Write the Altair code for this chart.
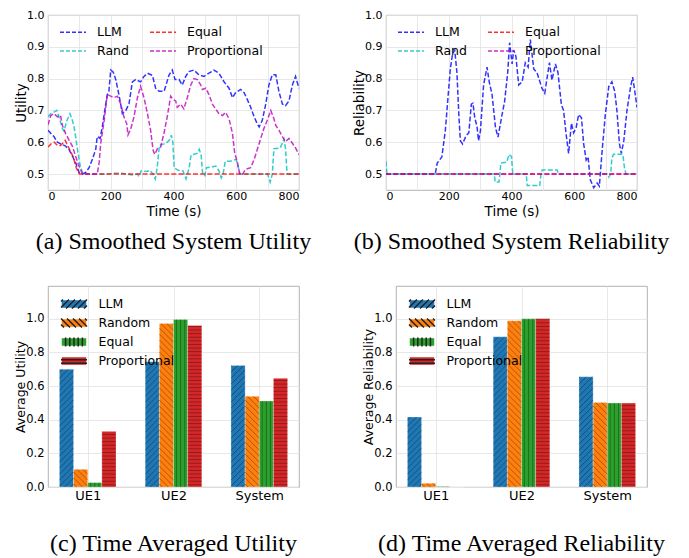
import altair as alt
import pandas as pd
import numpy as np

# ---------------- line-chart data ----------------
u_llm_t = [0, 9, 19, 30, 40, 55, 67, 78, 88, 99, 110, 120, 131, 141, 152, 157, 166, 173, 184, 189, 194, 200, 208, 216, 226, 237, 248, 258, 269, 279, 295, 306, 317, 333, 343, 354, 370, 386, 396, 405, 418, 428, 439, 449, 465, 481, 497, 513, 529, 545, 561, 577, 588, 598, 614, 625, 635, 646, 657, 667, 673, 683, 694, 704, 715, 726, 736, 747, 757, 768, 779, 789, 798, 800]
u_llm_v = [0.638, 0.628, 0.618, 0.600, 0.595, 0.589, 0.577, 0.556, 0.536, 0.505, 0.500, 0.505, 0.520, 0.546, 0.577, 0.618, 0.612, 0.648, 0.720, 0.750, 0.760, 0.827, 0.820, 0.797, 0.750, 0.690, 0.700, 0.720, 0.790, 0.797, 0.790, 0.807, 0.817, 0.810, 0.770, 0.760, 0.760, 0.812, 0.827, 0.797, 0.797, 0.780, 0.807, 0.822, 0.827, 0.812, 0.807, 0.817, 0.827, 0.817, 0.790, 0.770, 0.740, 0.756, 0.766, 0.756, 0.735, 0.710, 0.680, 0.658, 0.648, 0.669, 0.720, 0.780, 0.812, 0.812, 0.760, 0.720, 0.715, 0.730, 0.780, 0.807, 0.776, 0.770]

u_rand_t = [0, 9, 19, 28, 35, 46, 51, 60, 70, 78, 83, 88, 94, 99, 104, 110, 115, 195, 205, 235, 250, 270, 285, 290, 297, 315, 325, 335, 342, 348, 355, 370, 380, 390, 393, 398, 402, 415, 430, 440, 450, 456, 475, 482, 488, 493, 500, 505, 520, 535, 545, 552, 558, 565, 580, 595, 600, 607, 612, 700, 708, 715, 720, 740, 748, 752, 757, 762, 800]
u_rand_v = [0.680, 0.690, 0.695, 0.700, 0.680, 0.643, 0.635, 0.668, 0.690, 0.668, 0.648, 0.618, 0.577, 0.546, 0.520, 0.505, 0.500, 0.500, 0.503, 0.503, 0.500, 0.497, 0.500, 0.492, 0.510, 0.508, 0.512, 0.500, 0.485, 0.520, 0.590, 0.595, 0.600, 0.610, 0.622, 0.600, 0.520, 0.512, 0.510, 0.485, 0.520, 0.560, 0.565, 0.578, 0.560, 0.500, 0.495, 0.520, 0.522, 0.525, 0.510, 0.488, 0.500, 0.540, 0.540, 0.545, 0.545, 0.520, 0.500, 0.500, 0.475, 0.500, 0.580, 0.582, 0.600, 0.610, 0.580, 0.500, 0.500]

u_equal_t = [0, 10, 20, 30, 40, 50, 55, 60, 70, 80, 90, 100, 800]
u_equal_v = [0.585, 0.595, 0.600, 0.590, 0.590, 0.600, 0.606, 0.595, 0.575, 0.555, 0.520, 0.500, 0.500]

u_prop_t = [0, 9, 19, 30, 40, 46, 56, 67, 78, 88, 99, 110, 157, 163, 168, 179, 189, 200, 210, 221, 232, 242, 251, 255, 264, 274, 285, 295, 306, 317, 327, 335, 340, 349, 359, 370, 380, 391, 398, 407, 412, 423, 433, 444, 455, 465, 476, 487, 492, 503, 513, 524, 534, 545, 556, 566, 577, 588, 595, 604, 611, 620, 630, 646, 657, 667, 678, 688, 699, 710, 720, 726, 736, 747, 757, 768, 779, 789, 800]
u_prop_v = [0.655, 0.684, 0.690, 0.680, 0.684, 0.653, 0.628, 0.607, 0.587, 0.556, 0.525, 0.500, 0.500, 0.536, 0.597, 0.668, 0.750, 0.745, 0.740, 0.745, 0.720, 0.680, 0.658, 0.623, 0.643, 0.680, 0.740, 0.776, 0.740, 0.690, 0.638, 0.575, 0.562, 0.580, 0.585, 0.630, 0.680, 0.745, 0.735, 0.730, 0.710, 0.720, 0.705, 0.740, 0.780, 0.800, 0.797, 0.780, 0.766, 0.770, 0.750, 0.720, 0.705, 0.690, 0.684, 0.694, 0.674, 0.628, 0.566, 0.536, 0.500, 0.500, 0.515, 0.520, 0.546, 0.577, 0.612, 0.643, 0.669, 0.700, 0.674, 0.653, 0.638, 0.618, 0.602, 0.612, 0.597, 0.582, 0.561]

r_llm_t = [0, 157, 163, 178, 189, 200, 205, 212, 219, 226, 232, 237, 244, 255, 264, 272, 277, 283, 290, 295, 301, 311, 322, 329, 338, 349, 357, 368, 378, 388, 394, 402, 407, 414, 423, 434, 444, 453, 460, 471, 481, 497, 506, 513, 521, 529, 540, 548, 559, 566, 574, 582, 591, 598, 606, 614, 623, 630, 638, 644, 651, 662, 673, 680, 689, 699, 710, 720, 729, 736, 744, 750, 758, 768, 779, 786, 793, 800]
r_llm_v = [0.500, 0.500, 0.534, 0.554, 0.636, 0.770, 0.830, 0.877, 0.890, 0.820, 0.690, 0.605, 0.595, 0.620, 0.630, 0.720, 0.723, 0.677, 0.650, 0.605, 0.636, 0.780, 0.836, 0.790, 0.750, 0.646, 0.616, 0.677, 0.728, 0.820, 0.913, 0.846, 0.890, 0.870, 0.780, 0.790, 0.850, 0.836, 0.923, 0.830, 0.820, 0.770, 0.754, 0.800, 0.850, 0.795, 0.846, 0.820, 0.718, 0.700, 0.626, 0.565, 0.660, 0.630, 0.646, 0.687, 0.677, 0.595, 0.544, 0.554, 0.483, 0.457, 0.472, 0.462, 0.575, 0.687, 0.775, 0.790, 0.760, 0.700, 0.595, 0.565, 0.605, 0.700, 0.770, 0.805, 0.760, 0.710]

r_rand_t = [0, 3, 345, 348, 360, 363, 366, 385, 392, 400, 404, 447, 450, 490, 494, 498, 545, 550, 705, 710, 716, 720, 725, 755, 760, 765, 800]
r_rand_v = [0.540, 0.500, 0.500, 0.475, 0.475, 0.500, 0.535, 0.538, 0.562, 0.555, 0.500, 0.500, 0.464, 0.464, 0.500, 0.513, 0.513, 0.500, 0.500, 0.490, 0.500, 0.550, 0.562, 0.562, 0.520, 0.500, 0.500]

r_equal_t = [0, 800]
r_equal_v = [0.500, 0.500]
r_prop_t = [0, 800]
r_prop_v = [0.500, 0.500]

# ---------------- bar-chart data ----------------
groups = ["UE1", "UE2", "System"]
methods = ["LLM", "Random", "Equal", "Proportional"]
util_llm = [0.700, 0.745, 0.723]
util_random = [0.105, 0.972, 0.539]
util_equal = [0.026, 0.996, 0.511]
util_prop = [0.331, 0.960, 0.646]
rel_llm = [0.416, 0.893, 0.655]
rel_random = [0.022, 0.988, 0.503]
rel_equal = [0.003, 1.000, 0.499]
rel_prop = [0.000, 1.000, 0.499]

# ---------------- styling ----------------
FONT = "DejaVu Sans"
SERIF = "Liberation Serif"
LINE_ORDER = ["LLM", "Rand", "Equal", "Proportional"]
LINE_COLORS = ["#0000ff", "#00bfbf", "#ff0000", "#bf00bf"]
BAR_COLORS = ["#1f77b4", "#ff7f0e", "#2ca02c", "#d62728"]
HATCH = {"LLM": "/", "Random": "\\", "Equal": "|", "Proportional": "-"}

LW, LH = 251, 175       # line panels
BWID, BHGT = 251, 201   # bar panels
BAR_W = 0.165
XDOM = [-0.463, 2.463]
YDOM_BAR = [0, 1.195]
PXX = BWID / (XDOM[1] - XDOM[0])
PXY = BHGT / (YDOM_BAR[1] - YDOM_BAR[0])

# legend symbol geometry (px): drawn 26 px wide, entry size kept small for tight rows
SYM_W, SYM_H = 26.0, 9.0
LINE_SYM_S = 22.0           # sqrt(symbolSize) of the line legend
BAR_SYM_S = 20.0            # sqrt(symbolSize) of the bar legend
LINE_SYM_PATH = "M-%.3f,0L%.3f,0" % (SYM_W / LINE_SYM_S, SYM_W / LINE_SYM_S)


def caption(text, offset):
    return alt.TitleParams(text=text, orient="bottom", frame="group", anchor="middle",
                           font=SERIF, fontSize=24, fontWeight="normal", color="black", offset=offset)


def line_panel(series, ytitle, cap):
    layers = []
    for name, ts, vs in series:
        df = pd.DataFrame({"t": ts, "v": vs, "series": name})
        layers.append(
            alt.Chart(df).mark_line(strokeWidth=1.5, strokeDash=[5, 2.2], opacity=0.8, clip=True).encode(
                x=alt.X("t:Q", scale=alt.Scale(domain=[0, 800], nice=False),
                        axis=alt.Axis(values=list(range(0, 801, 100)), title="Time (s)",
                                      labelFontSize=11, titleFontSize=13.5, labelPadding=0,
                                      titleY=14, titleBaseline="top")),
                y=alt.Y("v:Q", scale=alt.Scale(domain=[0.45, 1.0], nice=False, zero=False),
                        axis=alt.Axis(values=[0.5, 0.6, 0.7, 0.8, 0.9, 1.0], format=".1f", title=ytitle,
                                      labelFontSize=11, titleFontSize=13.5, labelPadding=4,
                                      titleX=-27, titleBaseline="middle")),
                color=alt.Color("series:N", scale=alt.Scale(domain=LINE_ORDER, range=LINE_COLORS),
                                legend=alt.Legend(orient="none", legendX=13, legendY=5, columns=2,
                                                  title=None, symbolType=LINE_SYM_PATH,
                                                  symbolSize=LINE_SYM_S ** 2,
                                                  symbolStrokeWidth=1.5, symbolDash=[4, 2],
                                                  symbolOpacity=0.8, labelFont=FONT, labelFontSize=12.5,
                                                  labelOffset=12, columnPadding=17, rowPadding=0,
                                                  padding=0)),
            )
        )
    return alt.layer(*layers).properties(width=LW, height=LH, title=caption(cap, 12))


def hatch_px(W, H, kind):
    segs = []
    if H <= 0:
        return segs
    if kind == "/":
        sp = 6.0
        for c in np.arange(-W + sp / 2, H, sp):
            xa, xb = max(0.0, -c), min(W, H - c)
            if xb > xa:
                segs.append((xa, xa + c, xb, xb + c))
    elif kind == "\\":
        sp = 6.0
        for c in np.arange(sp / 2, H + W, sp):
            xa, xb = max(0.0, c - H), min(W, c)
            if xb > xa:
                segs.append((xa, c - xa, xb, c - xb))
    elif kind == "|":
        sp = 4.2
        k = 0
        pos = []
        while W / 2 + k * sp < W - 0.8:
            pos += [W / 2 + k * sp] + ([W / 2 - k * sp] if k else [])
            k += 1
        for p in pos:
            segs.append((p, 0, p, H))
    else:
        sp = 3.6
        for y in np.arange(sp * 0.6, H, sp):
            segs.append((0, y, W, y))
    return segs


R = BAR_SYM_S / 2
HW, HH = SYM_W / 2 / R, SYM_H / 2 / R
RECT_PATH = "M-%.3f,-%.3fL%.3f,-%.3fL%.3f,%.3fL-%.3f,%.3fZ" % (HW, HH, HW, HH, HW, HH, HW, HH)


def hatch_path(kind):
    parts = ["M-%.3f,-%.3f" % (HW, HH), "M%.3f,%.3f" % (HW, HH)]
    for (xa, ya, xb, yb) in hatch_px(SYM_W, SYM_H, kind):
        parts.append(f"M{xa / R - HW:.3f},{HH - ya / R:.3f}L{xb / R - HW:.3f},{HH - yb / R:.3f}")
    return "".join(parts)


def bar_panel(vals, ytitle, cap):
    bars, hatch = [], []
    for mi, m in enumerate(methods):
        for gi, g in enumerate(groups):
            c = gi + (mi - 1.5) * BAR_W
            x0, x1 = c - BAR_W / 2, c + BAR_W / 2
            v = vals[mi][gi]
            bars.append({"method": m, "hatch": m, "x0": x0, "x1": x1, "xc": c, "v": v, "base": 0.0})
            for (xa, ya, xb, yb) in hatch_px((x1 - x0) * PXX, v * PXY, HATCH[m]):
                hatch.append({"method": m, "xa": x0 + xa / PXX, "ya": ya / PXY,
                              "xb": x0 + xb / PXX, "yb": yb / PXY})
    bdf = pd.DataFrame(bars)
    hdf = pd.DataFrame(hatch)
    label_expr = "datum.value == 0 ? '%s' : datum.value == 1 ? '%s' : '%s'" % tuple(groups)
    xenc = alt.X("x0:Q", scale=alt.Scale(domain=XDOM, nice=False, zero=False),
                 axis=alt.Axis(values=[0, 1, 2], labelExpr=label_expr, title=None,
                               labelFontSize=13, labelPadding=2))
    yenc = alt.Y("v:Q", scale=alt.Scale(domain=YDOM_BAR, nice=False),
                 axis=alt.Axis(values=[0, 0.2, 0.4, 0.6, 0.8, 1.0], format=".1f", title=ytitle,
                               labelFontSize=11.5, titleFontSize=12.5, labelPadding=4,
                               titleX=-28, titleBaseline="middle"))
    common = dict(orient="none", legendX=15, legendY=7, title=None, symbolSize=BAR_SYM_S ** 2,
                  symbolOpacity=1, labelFont=FONT, labelFontSize=12.5, labelOffset=13.5,
                  rowPadding=0, padding=0)
    color_leg = alt.Legend(symbolType=RECT_PATH, zindex=0, **common)
    hatch_leg = alt.Legend(labelColor="transparent", zindex=1, **common)
    bar = alt.Chart(bdf).mark_rect(stroke="white", strokeWidth=0.6, strokeOpacity=0.5).encode(
        x=xenc, x2="x1:Q", y=yenc, y2="base:Q",
        color=alt.Color("method:N", scale=alt.Scale(domain=methods, range=BAR_COLORS), legend=color_leg),
    )
    hat = alt.Chart(hdf).mark_rule(color="black", strokeWidth=0.7, opacity=0.45).encode(
        x="xa:Q", x2="xb:Q", y="ya:Q", y2="yb:Q")
    pts = alt.Chart(bdf).mark_point(fill="transparent", stroke="#222222", strokeWidth=0.7,
                                    opacity=0).encode(
        x="xc:Q", y="v:Q",
        shape=alt.Shape("hatch:N", sort=methods,
                        scale=alt.Scale(range=[hatch_path(HATCH[m]) for m in methods]),
                        legend=hatch_leg),
    )
    return alt.layer(bar, hat, pts).properties(width=BWID, height=BHGT, title=caption(cap, 30))


pa = line_panel([("LLM", u_llm_t, u_llm_v), ("Rand", u_rand_t, u_rand_v),
                 ("Equal", u_equal_t, u_equal_v), ("Proportional", u_prop_t, u_prop_v)],
                "Utility", "(a) Smoothed System Utility")
pb = line_panel([("LLM", r_llm_t, r_llm_v), ("Rand", r_rand_t, r_rand_v),
                 ("Equal", r_equal_t, r_equal_v), ("Proportional", r_prop_t, r_prop_v)],
                "Reliability", "(b) Smoothed System Reliability")
pc = bar_panel([util_llm, util_random, util_equal, util_prop], "Average Utility",
               "(c) Time Averaged Utility")
pd_ = bar_panel([rel_llm, rel_random, rel_equal, rel_prop], "Average Reliability",
                "(d) Time Averaged Reliability")

row1 = alt.hconcat(pa, pb, spacing=87, bounds="flush").resolve_scale(color="independent", shape="independent")
row2 = alt.hconcat(pc, pd_, spacing=97, bounds="flush").resolve_scale(color="independent", shape="independent")
chart = alt.vconcat(row1, row2, spacing=31).resolve_scale(color="independent", shape="independent").properties(
    padding={"left": 5, "top": 0, "right": 0, "bottom": 0}
).configure_view(stroke="#a0a0a0", strokeWidth=0.8).configure_axis(
    grid=True, gridColor="#e2e2e2", gridWidth=0.8, domain=False, ticks=False,
    labelFont=FONT, titleFont=FONT, titleFontWeight="normal",
    labelColor="black", titleColor="black",
)

chart.save("out.html", embed_options={"renderer": "svg", "actions": False})
